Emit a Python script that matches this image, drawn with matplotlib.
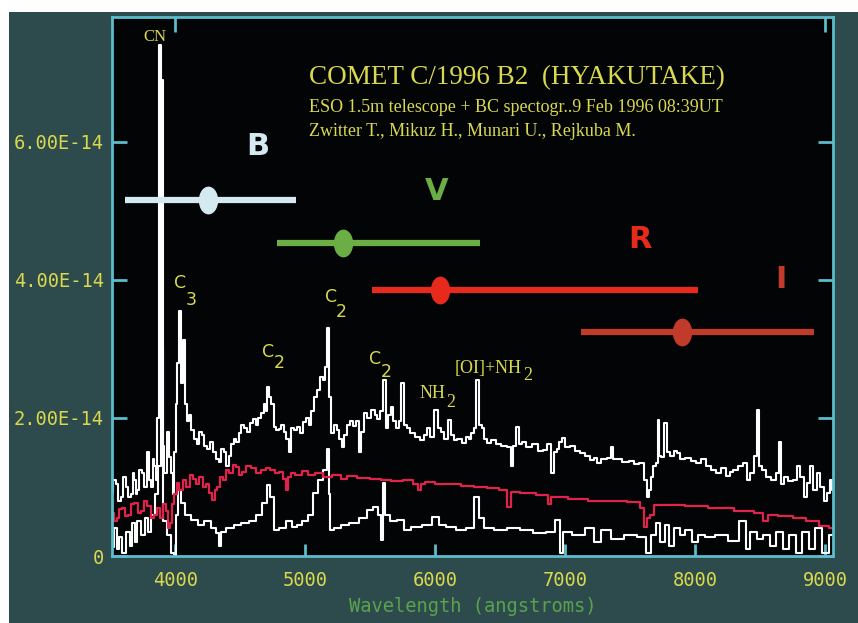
import numpy as np
import matplotlib.pyplot as plt
from matplotlib.patches import Rectangle
from matplotlib.path import Path
from matplotlib.markers import MarkerStyle
from matplotlib.transforms import Affine2D

# comet spectrum (upper white), flux in 1e-14 units
wl_comet = [3515, 3535, 3554, 3572, 3592, 3612, 3631, 3650, 3669, 3680, 3692, 3705, 3715, 3735,
            3754, 3772, 3792, 3808, 3823, 3835, 3846, 3858, 3869, 3885, 3900, 3908, 3925, 3946,
            3962, 3977, 3985, 4000, 4008, 4023, 4038, 4054, 4069, 4085, 4100, 4115, 4131, 4154,
            4177, 4195, 4215, 4235, 4254, 4280, 4308, 4325, 4346, 4365, 4385, 4405, 4423, 4440,
            4461, 4480, 4500, 4520, 4538, 4565, 4592, 4610, 4631, 4650, 4669, 4692, 4705, 4715,
            4730, 4746, 4769, 4790, 4808, 4825, 4846, 4865, 4885, 4905, 4923, 4946, 4970, 5000,
            5020, 5038, 5060, 5077, 5100, 5131, 5150, 5161, 5177, 5192, 5207, 5230, 5254, 5275,
            5292, 5310, 5331, 5355, 5384, 5405, 5423, 5440, 5461, 5490, 5523, 5545, 5561, 5590,
            5607, 5630, 5650, 5669, 5690, 5707, 5730, 5746, 5769, 5795, 5823, 5860, 5900, 5925,
            5946, 5975, 6007, 6030, 6054, 6085, 6115, 6135, 6154, 6190, 6231, 6250, 6269, 6290,
            6307, 6323, 6346, 6369, 6390, 6407, 6445, 6484, 6530, 6577, 6592, 6610, 6631, 6655,
            6677, 6720, 6769, 6810, 6846, 6875, 6900, 6925, 6946, 6965, 6984, 7020, 7054, 7090,
            7131, 7170, 7208, 7230, 7254, 7300, 7340, 7361, 7380, 7407, 7460, 7515, 7550, 7592,
            7615, 7638, 7655, 7669, 7690, 7707, 7715, 7730, 7746, 7769, 7795, 7823, 7845, 7869,
            7905, 7946, 7985, 8023, 8060, 8100, 8140, 8177, 8215, 8254, 8280, 8307, 8345, 8384,
            8410, 8438, 8460, 8484, 8500, 8530, 8561, 8600, 8638, 8654, 8670, 8692, 8730, 8769,
            8795, 8822, 8845, 8869, 8895, 8923, 8950, 8977, 9000, 9023, 9045, 9060]
fx_comet = [0.91, 1.10, 1.05, 0.80, 0.85, 1.15, 1.00, 0.85, 0.90, 1.20, 1.10, 0.90, 0.95, 1.25,
            1.20, 1.00, 1.50, 1.10, 1.00, 1.40, 1.30, 1.10, 2.00, 7.40, 3.00, 1.60, 1.20, 1.80,
            1.43, 1.20, 0.90, 1.50, 2.20, 2.80, 3.55, 2.50, 3.13, 2.20, 1.95, 2.05, 1.83, 1.70,
            1.62, 1.80, 1.75, 1.60, 1.55, 1.65, 1.50, 1.40, 1.36, 1.55, 1.50, 1.30, 1.45, 1.62,
            1.70, 1.65, 1.78, 1.90, 1.85, 1.80, 1.93, 1.98, 1.90, 2.00, 2.07, 2.20, 2.10, 2.45,
            2.30, 2.20, 1.87, 1.82, 1.84, 1.90, 1.80, 1.70, 1.50, 1.85, 1.83, 1.87, 1.78, 1.94,
            2.00, 1.90, 2.10, 2.30, 2.40, 2.60, 2.55, 2.74, 3.30, 2.30, 1.78, 1.90, 1.82, 1.70,
            1.58, 1.75, 1.90, 1.95, 1.88, 1.95, 1.50, 1.80, 2.07, 2.00, 2.12, 2.05, 1.98, 2.10,
            2.55, 1.85, 2.05, 2.16, 1.95, 1.85, 1.95, 2.50, 1.90, 1.85, 1.78, 1.72, 1.68, 1.75,
            1.85, 1.72, 2.12, 1.85, 1.80, 1.70, 1.97, 1.75, 1.68, 1.70, 1.64, 1.72, 1.70, 1.78,
            1.85, 2.55, 1.90, 1.85, 1.70, 1.64, 1.68, 1.62, 1.60, 1.58, 1.30, 1.60, 1.87, 1.62,
            1.65, 1.58, 1.62, 1.52, 1.54, 1.62, 1.20, 1.50, 1.55, 1.65, 1.71, 1.58, 1.60, 1.52,
            1.49, 1.45, 1.39, 1.42, 1.35, 1.40, 1.42, 1.58, 1.40, 1.40, 1.36, 1.38, 1.33, 1.35,
            1.10, 0.86, 0.95, 1.15, 1.30, 1.35, 1.97, 1.45, 1.43, 1.93, 1.50, 1.45, 1.52, 1.49,
            1.40, 1.42, 1.38, 1.35, 1.40, 1.30, 1.25, 1.20, 1.28, 1.16, 1.22, 1.25, 1.30, 1.35,
            1.10, 1.20, 1.45, 2.12, 1.30, 1.25, 1.15, 1.10, 1.20, 1.65, 1.05, 1.15, 1.08, 1.10,
            1.30, 1.15, 0.85, 1.06, 1.30, 0.95, 1.20, 1.00, 0.80, 0.91, 1.10, 0.95]

# solar-like continuum (red)
wl_cont = [3515, 3540, 3560, 3580, 3600, 3625, 3650, 3675, 3700, 3725, 3750, 3775, 3800, 3825,
           3850, 3875, 3900, 3920, 3940, 3955, 3970, 3985, 4000, 4023, 4045, 4070, 4100, 4125,
           4150, 4175, 4200, 4225, 4250, 4275, 4300, 4315, 4330, 4355, 4380, 4405, 4430, 4455,
           4480, 4505, 4530, 4565, 4600, 4640, 4680, 4715, 4750, 4785, 4820, 4845, 4860, 4880,
           4900, 4950, 5000, 5050, 5100, 5170, 5250, 5300, 5350, 5450, 5550, 5620, 5700, 5800,
           5860, 5880, 5900, 5950, 6050, 6150, 6250, 6350, 6450, 6540, 6570, 6600, 6700, 6850,
           6880, 6910, 6950, 7100, 7250, 7400, 7550, 7600, 7620, 7640, 7660, 7700, 7850, 8000,
           8200, 8400, 8500, 8540, 8580, 8700, 8800, 8900, 9000, 9060]
fx_cont = [0.62, 0.50, 0.55, 0.68, 0.70, 0.58, 0.60, 0.75, 0.77, 0.62, 0.65, 0.80, 0.72, 0.55,
           0.60, 0.70, 0.55, 0.75, 0.65, 0.40, 0.48, 0.75, 0.90, 1.06, 0.95, 1.10, 1.00, 1.18,
           1.12, 1.05, 1.15, 1.00, 1.05, 0.92, 0.81, 0.95, 1.00, 1.15, 1.10, 1.25, 1.20, 1.32,
           1.29, 1.18, 1.22, 1.30, 1.27, 1.20, 1.24, 1.28, 1.25, 1.20, 1.22, 1.12, 0.95, 1.15,
           1.20, 1.18, 1.23, 1.17, 1.20, 1.15, 1.18, 1.12, 1.16, 1.13, 1.12, 1.10, 1.08, 1.10,
           1.05, 0.95, 1.04, 1.07, 1.05, 1.04, 1.02, 1.00, 0.98, 0.96, 0.71, 0.93, 0.91, 0.88,
           0.76, 0.86, 0.85, 0.82, 0.80, 0.79, 0.78, 0.70, 0.42, 0.55, 0.60, 0.74, 0.74, 0.72,
           0.70, 0.65, 0.62, 0.50, 0.60, 0.58, 0.55, 0.50, 0.43, 0.40]

# gas emission (lower white)
wl_gas = [3515, 3540, 3560, 3580, 3610, 3640, 3660, 3680, 3700, 3720, 3750, 3780, 3800, 3830,
          3860, 3878, 3900, 3920, 3950, 3980, 4000, 4010, 4030, 4060, 4100, 4150, 4200, 4250,
          4300, 4330, 4340, 4360, 4420, 4480, 4540, 4600, 4650, 4690, 4720, 4745, 4770, 4830,
          4880, 4920, 4960, 5000, 5040, 5080, 5120, 5155, 5175, 5190, 5200, 5250, 5300, 5380,
          5450, 5500, 5540, 5580, 5595, 5607, 5620, 5680, 5740, 5780, 5850, 5950, 6007, 6050,
          6120, 6200, 6270, 6323, 6350, 6400, 6500, 6600, 6700, 6800, 6900, 6950, 6965, 7000,
          7100, 7200, 7250, 7300, 7400, 7500, 7600, 7638, 7680, 7715, 7750, 7780, 7820, 7860,
          7900, 7950, 8000, 8050, 8100, 8200, 8300, 8380, 8400, 8450, 8500, 8550, 8600, 8650,
          8700, 8750, 8800, 8850, 8900, 8950, 9000, 9060]
fx_gas = [0.13, 0.40, 0.10, 0.28, 0.05, 0.35, 0.15, 0.48, 0.20, 0.50, 0.30, 0.55, 0.35, 0.60,
          0.90, 1.30, 6.90, 0.50, 0.30, 0.05, 0.02, 0.60, 0.96, 0.77, 0.60, 0.52, 0.45, 0.50,
          0.40, 0.33, 0.15, 0.35, 0.40, 0.45, 0.48, 0.50, 0.60, 0.77, 1.03, 0.85, 0.38, 0.40,
          0.50, 0.42, 0.45, 0.50, 0.60, 0.91, 1.10, 1.25, 1.55, 0.90, 0.38, 0.40, 0.45, 0.48,
          0.55, 0.67, 0.71, 0.60, 0.23, 1.06, 0.60, 0.50, 0.52, 0.38, 0.42, 0.45, 0.57, 0.45,
          0.42, 0.38, 0.41, 0.86, 0.55, 0.40, 0.37, 0.40, 0.37, 0.33, 0.35, 0.52, 0.05, 0.35,
          0.30, 0.40, 0.20, 0.38, 0.25, 0.30, 0.28, 0.04, 0.30, 0.48, 0.20, 0.45, 0.15, 0.40,
          0.30, 0.38, 0.20, 0.30, 0.28, 0.30, 0.22, 0.50, 0.10, 0.35, 0.25, 0.30, 0.15, 0.35,
          0.10, 0.30, 0.05, 0.35, 0.10, 0.40, 0.05, 0.30]

# photometric bands: name, start, end, centre, level (1e-14)
band_names = ['B', 'V', 'R', 'I']
band_start = [3615, 4784, 5515, 7123]
band_end = [4930, 6346, 8023, 8915]
band_centre = [4253, 5292, 6038, 7900]
band_level = [5.16, 4.54, 3.86, 3.25]
band_label_x = [4638, 6015, 7576, 8660]
band_label_y = [5.93, 5.28, 4.58, 4.00]
band_colors = ['#d4eaf0', '#6aae45', '#e82a1c', '#c23a2a']

yticks = [0, 2, 4, 6]
yticklabels = ['0', '2.00E-14', '4.00E-14', '6.00E-14']
xticks = [4000, 5000, 6000, 7000, 8000, 9000]

teal = '#2d4b4c'
cyan = '#5cbccb'
yellow = '#d9d84e'

fig = plt.figure(figsize=(8.58, 6.23), dpi=100, facecolor=teal)
# white margins at top and left of the scanned page
fig.patches.append(Rectangle((0, 611 / 623), 1, 12 / 623, transform=fig.transFigure,
                             facecolor='white', edgecolor='none', zorder=-10))
fig.patches.append(Rectangle((0, 0), 9 / 858, 1, transform=fig.transFigure,
                             facecolor='white', edgecolor='none', zorder=-10))
ax = fig.add_axes([112 / 858, 1 - 556 / 623, 721 / 858, 539 / 623])
ax.set_facecolor('#020406')

ax.plot(wl_gas, fx_gas, color='white', lw=1.5, drawstyle='steps-mid')
ax.plot(wl_comet, fx_comet, color='white', lw=1.5, drawstyle='steps-mid')
ax.plot(wl_cont, fx_cont, color='#e0234a', lw=1.6, drawstyle='steps-mid')

ellipse = MarkerStyle(Path.unit_circle().transformed(Affine2D().scale(0.68, 1.0)))
for i in range(len(band_names)):
    ax.plot([band_start[i], band_end[i]], [band_level[i], band_level[i]],
            color=band_colors[i], lw=4.5, solid_capstyle='butt')
    ax.plot(band_centre[i], band_level[i], marker=ellipse, ms=19, color=band_colors[i])
    ax.text(band_label_x[i], band_label_y[i], band_names[i], color=band_colors[i],
            fontsize=22, fontweight='bold', ha='center', va='center')

# line identifications
serif = 'Liberation Serif'
ax.text(3846, 7.52, 'CN', color=yellow, fontsize=12, family=serif, ha='center', va='center')
for cx, cy, sx, sy, sub in [(4038, 3.96, 4123, 3.71, '3'), (4715, 2.96, 4800, 2.80, '2'),
                            (5200, 3.75, 5277, 3.54, '2'), (5538, 2.86, 5623, 2.67, '2')]:
    ax.text(cx, cy, 'C', color=yellow, fontsize=12.5, ha='center', va='center')
    ax.text(sx, sy, sub, color=yellow, fontsize=12.5, ha='center', va='center')
ax.text(5976, 2.36, 'NH', color=yellow, fontsize=13, family=serif, ha='center', va='center')
ax.text(6123, 2.22, '2', color=yellow, fontsize=13, family=serif, ha='center', va='center')
ax.text(6407, 2.72, '[OI]+NH', color=yellow, fontsize=13, family=serif, ha='center', va='center')
ax.text(6715, 2.62, '2', color=yellow, fontsize=13, family=serif, ha='center', va='center')

# header
fig.text(309 / 858, 1 - 78 / 623, 'COMET C/1996 B2  (HYAKUTAKE)', color=yellow,
         fontsize=19.5, family=serif, ha='left', va='center')
fig.text(309 / 858, 1 - 108 / 623, 'ESO 1.5m telescope + BC spectogr..9 Feb 1996 08:39UT',
         color=yellow, fontsize=13, family=serif, ha='left', va='center')
fig.text(309 / 858, 1 - 131 / 623, 'Zwitter T., Mikuz H., Munari U., Rejkuba M.',
         color=yellow, fontsize=13, family=serif, ha='left', va='center')

ax.set_xlim(3515, 9060)
ax.set_ylim(0, 7.81)
ax.set_xticks(xticks)
ax.set_yticks(yticks)
ax.set_yticklabels(yticklabels)
for sp in ax.spines.values():
    sp.set_color(cyan)
    sp.set_linewidth(2)
ax.tick_params(axis='both', direction='in', color=cyan, width=2, labelcolor=yellow,
               labelsize=13.5, labelfontfamily='DejaVu Sans Mono')
ax.tick_params(axis='y', length=11, pad=6, right=True)
ax.tick_params(axis='x', length=9, pad=11)
top = ax.secondary_xaxis('top')
top.set_xticks([4000, 9000])
top.tick_params(direction='in', length=11, width=2, color=cyan, labeltop=False)
top.spines['top'].set_visible(False)
ax.set_xlabel('Wavelength (angstroms)', color='#5aa24e', fontsize=13.5,
              family='DejaVu Sans Mono', labelpad=5)

fig.savefig('out.png', dpi=100, facecolor=fig.get_facecolor())
